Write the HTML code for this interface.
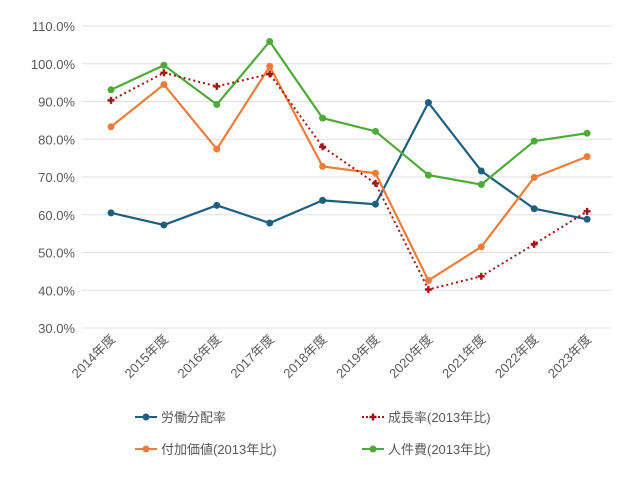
<!DOCTYPE html>
<html><head><meta charset="utf-8"><style>body{margin:0;background:#fff}svg{display:block;font-family:"Liberation Sans","Noto Sans CJK JP",sans-serif}</style></head>
<body>
<svg id="chart" width="640" height="480" xmlns="http://www.w3.org/2000/svg"></svg>
<script>
const categories=["2014年度","2015年度","2016年度","2017年度","2018年度","2019年度","2020年度","2021年度","2022年度","2023年度"];
const laborShare=[60.5,57.3,62.5,57.8,63.8,62.8,89.7,71.6,61.6,58.8];
const growthRate=[90.3,97.6,94.0,97.3,78.0,68.3,40.2,43.7,52.2,60.9];
const valueAdded=[83.3,94.5,77.4,99.3,72.8,71.0,42.6,51.5,69.9,75.4];
const laborCost=[93.1,99.6,89.2,105.9,85.6,82.1,70.5,68.0,79.5,81.6];
const yTicks=[30,40,50,60,70,80,90,100,110];
const svg=document.getElementById('chart');
const NS='http://www.w3.org/2000/svg';
const x=i=>111+i*52.9;
const y=v=>328-(v-30)*3.775;
function mk(t,a,p){const e=document.createElementNS(NS,t);for(const k in a)e.setAttribute(k,a[k]);(p||svg).appendChild(e);return e;}
yTicks.forEach(v=>{
  const g=mk('line',{x1:82,x2:612,y1:y(v),y2:y(v),stroke:'#e0e0e0','stroke-width':1});
  
  
  const t=mk('text',{x:75,y:y(v)+5,'text-anchor':'end','font-size':13,fill:'#595959'});
  t.textContent=v.toFixed(1)+'%';
  
  
});
categories.forEach((c,i)=>{
  const t=mk('text',{x:0,y:0,'text-anchor':'end','font-size':13,fill:'#595959',transform:`translate(${x(i)+5},${340}) rotate(-45)`});
  t.textContent=c;
  
  
});
function series(data,color,name,dotted){
  const pts=data.map((v,i)=>x(i)+','+y(v)).join(' ');
  const l=mk('polyline',{points:pts,fill:'none',stroke:color,'stroke-width':dotted?2:2.2,'stroke-dasharray':dotted?'2,3':'none'});
  
  
  data.forEach((v,i)=>{
    let m;
    if(dotted){m=mk('path',{d:`M${x(i)-3.5},${y(v)-1.2}h2.3v-2.3h2.4v2.3h2.3v2.4h-2.3v2.3h-2.4v-2.3h-2.3z`,fill:color});}
    else m=mk('circle',{cx:x(i),cy:y(v),r:3.5,fill:color});
    
    
  });
}
series(laborShare,'#1f5f7e','labor-share',false);
series(valueAdded,'#ec7d3a','value-added',false);
series(laborCost,'#4faa3a','labor-cost',false);
series(growthRate,'#a31515','growth-rate',true);
const legend=[["労働分配率",'#1f5f7e',135,417,false],["成長率(2013年比)",'#a31515',362,417,true],["付加価値(2013年比)",'#ec7d3a',135,449,false],["人件費(2013年比)",'#4faa3a',362,449,false]];
legend.forEach(([lab,col,lx,ly,d])=>{
  const g=mk('g',{});
  
  
  mk('line',{x1:lx,x2:lx+22,y1:ly,y2:ly,stroke:col,'stroke-width':2,'stroke-dasharray':d?'2,2':'none'},g);
  if(d)mk('path',{d:`M${lx+7.5},${ly-1.2}h2.3v-2.3h2.4v2.3h2.3v2.4h-2.3v2.3h-2.4v-2.3h-2.3z`,fill:col},g);
  else mk('circle',{cx:lx+11,cy:ly,r:3.5,fill:col},g);
  const t=mk('text',{x:lx+26,y:ly+5,'font-size':13,fill:'#595959'},g);
  t.textContent=lab;
});
</script>
</body></html>
